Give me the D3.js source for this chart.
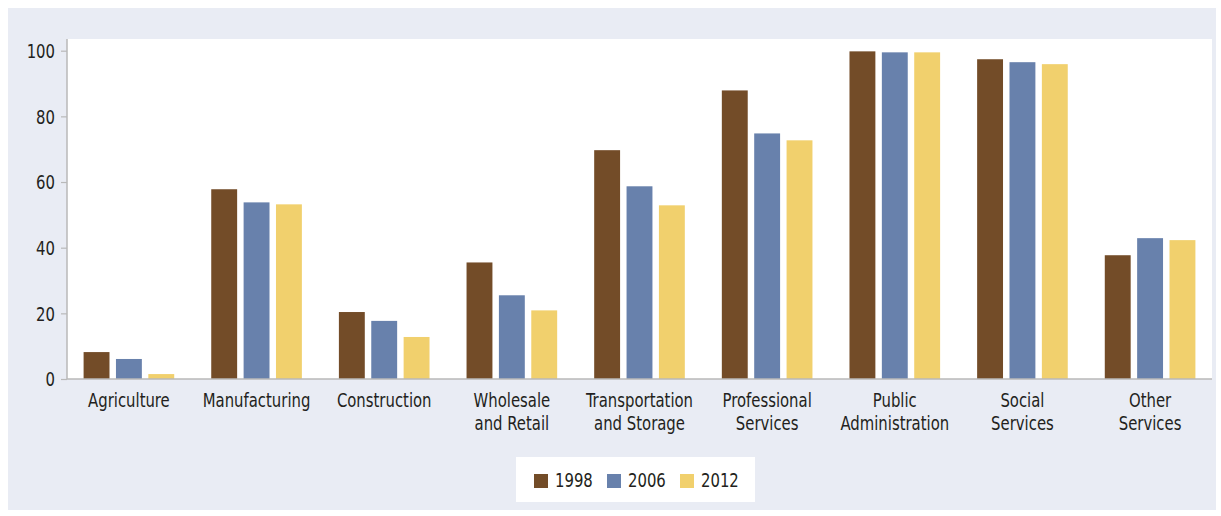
<!DOCTYPE html>
<html>
<head>
<meta charset="utf-8">
<script src="https://cdn.jsdelivr.net/npm/d3@7"></script>
<style>
  html, body { margin: 0; padding: 0; background: #ffffff; }
  svg { display: block; }
  text { font-family: "DejaVu Sans Condensed", "Liberation Sans Narrow", "Roboto", sans-serif; fill: #231f20; }
</style>
</head>
<body>
<svg id="chart" width="1221" height="516"></svg>
<script>
// Sector categories (two-line labels split on "\n")
const categories = [
  "Agriculture", "Manufacturing", "Construction", "Wholesale\nand Retail",
  "Transportation\nand Storage", "Professional\nServices", "Public\nAdministration",
  "Social\nServices", "Other\nServices"
];
const years = ["1998", "2006", "2012"];
const values1998 = [8.2, 57.8, 20.4, 35.5, 69.7, 87.9, 99.8, 97.4, 37.7];
const values2006 = [6.1, 53.8, 17.7, 25.5, 58.7, 74.8, 99.5, 96.5, 42.9];
const values2012 = [1.5, 53.2, 12.8, 20.9, 52.9, 72.7, 99.5, 95.9, 42.3];
const yTicks = [0, 20, 40, 60, 80, 100];
const colors = ["#734c28", "#6881ac", "#f1d06d"];

const series = [values1998, values2006, values2012];
const rows = categories.map((c, i) => ({ cat: c, vals: series.map(s => s[i]) }));

const svg = d3.select("#chart");
const panel = { x: 8, y: 8, w: 1208, h: 502 };
const plot = { left: 67, right: 1212, top: 39, bottom: 379 };
const squeeze = 0.87; // horizontal condensing of label type
const fontSize = "19px";

// draws a condensed text anchored at (x, y)
function label(parent, x, y, anchor) {
  return parent.append("text")
    .attr("transform", `translate(${x},${y}) scale(${squeeze},1)`)
    .attr("text-anchor", anchor)
    .style("font-size", fontSize);
}

// outer panel background
svg.append("rect").attr("x", panel.x).attr("y", panel.y)
  .attr("width", panel.w).attr("height", panel.h).attr("fill", "#e9ecf4");

// white plotting area
svg.append("rect").attr("x", plot.left).attr("y", plot.top)
  .attr("width", plot.right - plot.left).attr("height", plot.bottom - plot.top)
  .attr("fill", "#ffffff");

const x0 = d3.scaleBand().domain(categories).range([plot.left, plot.right])
  .paddingInner(0.29).paddingOuter(0.13);
const x1 = d3.scaleBand().domain(d3.range(years.length)).range([0, x0.bandwidth()])
  .paddingInner(0.2);
const y = d3.scaleLinear().domain([0, 100]).range([plot.bottom, plot.top + 11.7]);

// bars
const g = svg.append("g");
g.selectAll("g.group").data(rows).join("g")
  .attr("class", "group")
  .attr("transform", d => `translate(${x0(d.cat)},0)`)
  .selectAll("rect").data(d => d.vals.map((v, k) => ({ v, k })))
  .join("rect")
  .attr("x", d => x1(d.k))
  .attr("width", x1.bandwidth())
  .attr("y", d => y(d.v))
  .attr("height", d => y(0) - y(d.v))
  .attr("fill", d => colors[d.k]);

// y axis
const yAxis = svg.append("g").attr("transform", `translate(${plot.left},0)`)
  .call(d3.axisLeft(y).tickValues(yTicks).tickSize(6).tickPadding(6));
yAxis.select(".domain").attr("stroke", "#b9b9b9").attr("stroke-width", 1.5)
  .attr("d", `M0,${plot.top}V${plot.bottom}`);
yAxis.selectAll(".tick line").attr("stroke", "#b9b9b9").attr("stroke-width", 1.2);
yAxis.selectAll(".tick text")
  .attr("x", null).attr("dy", null)
  .attr("transform", `translate(-12,0) scale(${squeeze},1)`)
  .attr("dominant-baseline", "central")
  .style("font-size", fontSize).attr("fill", "#231f20");

// x axis baseline
svg.append("line").attr("x1", plot.left).attr("x2", plot.right)
  .attr("y1", plot.bottom).attr("y2", plot.bottom)
  .attr("stroke", "#b9b9b9").attr("stroke-width", 1.5);

// category labels
const labels = svg.append("g");
categories.forEach(c => {
  const cx = x0(c) + x0.bandwidth() / 2;
  const t = label(labels, cx, 407, "middle");
  c.split("\n").forEach((line, i) => {
    t.append("tspan").attr("x", 0).attr("dy", i === 0 ? 0 : 23).text(line);
  });
});

// legend
const legend = svg.append("g");
legend.append("rect").attr("x", 516).attr("y", 457).attr("width", 239).attr("height", 45)
  .attr("fill", "#ffffff");
const legX = [534, 607, 680];
years.forEach((yr, k) => {
  legend.append("rect").attr("x", legX[k]).attr("y", 474).attr("width", 14).attr("height", 14)
    .attr("fill", colors[k]);
  label(legend, legX[k] + 21, 487, "start").text(yr);
});
</script>
</body>
</html>
